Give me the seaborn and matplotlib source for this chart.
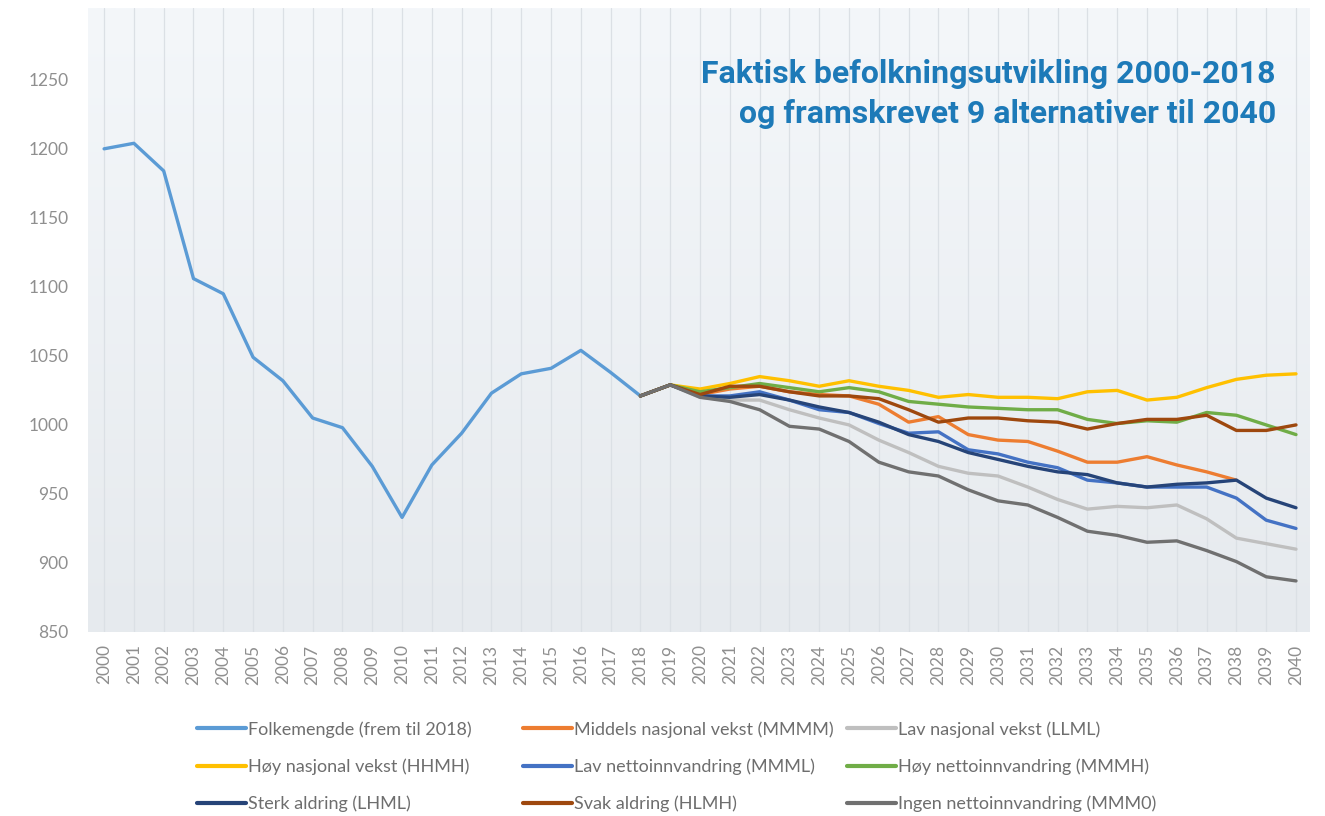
import numpy as np
import pandas as pd
import matplotlib
matplotlib.use("Agg")
import matplotlib.pyplot as plt
from matplotlib.lines import Line2D
import seaborn as sns

# ---------------- data ----------------
hist_years = list(range(2000, 2019))
folkemengde = [1200, 1204, 1184, 1106, 1095, 1049, 1032, 1005, 998, 970, 933,
               971, 994, 1023, 1037, 1041, 1054, 1038, 1021]

proj_years = list(range(2018, 2041))
middels = [1021, 1029, 1022, 1026, 1028, 1024, 1022, 1021, 1015, 1002, 1006, 993,
           989, 988, 981, 973, 973, 977, 971, 966, 960, np.nan, np.nan]
lav_nasjonal = [1021, 1029, 1020, 1018, 1018, 1011, 1005, 1000, 989, 980, 970, 965,
                963, 955, 946, 939, 941, 940, 942, 932, 918, 914, 910]
hoy_nasjonal = [1021, 1029, 1026, 1030, 1035, 1032, 1028, 1032, 1028, 1025, 1020, 1022,
                1020, 1020, 1019, 1024, 1025, 1018, 1020, 1027, 1033, 1036, 1037]
lav_netto = [1021, 1029, 1021, 1021, 1024, 1018, 1011, 1009, 1001, 994, 995, 982,
             979, 973, 969, 960, 958, 955, 955, 955, 947, 931, 925]
hoy_netto = [1021, 1029, 1024, 1027, 1030, 1027, 1024, 1027, 1024, 1017, 1015, 1013,
             1012, 1011, 1011, 1004, 1001, 1003, 1002, 1009, 1007, 1000, 993]
sterk_aldring = [1021, 1029, 1021, 1020, 1022, 1018, 1013, 1009, 1002, 993, 988, 980,
                 975, 970, 966, 964, 958, 955, 957, 958, 960, 947, 940]
svak_aldring = [1021, 1029, 1022, 1028, 1028, 1024, 1021, 1021, 1019, 1011, 1002, 1005,
                1005, 1003, 1002, 997, 1001, 1004, 1004, 1007, 996, 996, 1000]
ingen_netto = [1021, 1029, 1020, 1017, 1011, 999, 997, 988, 973, 966, 963, 953,
               945, 942, 933, 923, 920, 915, 916, 909, 901, 890, 887]

series_names = ["Folkemengde (frem til 2018)", "Middels nasjonal vekst (MMMM)",
                "Lav nasjonal vekst (LLML)", "Høy nasjonal vekst (HHMH)",
                "Lav nettoinnvandring (MMML)", "Høy nettoinnvandring (MMMH)",
                "Sterk aldring (LHML)", "Svak aldring (HLMH)",
                "Ingen nettoinnvandring (MMM0)"]
series_colors = ["#5B9BD5", "#ED7D31", "#BFBFBF", "#FFC000", "#4472C4",
                 "#70AD47", "#264478", "#9E480E", "#707070"]

y_ticks = [850, 900, 950, 1000, 1050, 1100, 1150, 1200, 1250]
title_lines = ["Faktisk befolkningsutvikling 2000-2018",
               "og framskrevet 9 alternativer til 2040"]

# ---------------- build long table ----------------
frames = [pd.DataFrame({"year": hist_years, "value": folkemengde,
                        "series": series_names[0]})]
for name, vals in zip(series_names[1:], [middels, lav_nasjonal, hoy_nasjonal,
                                         lav_netto, hoy_netto, sterk_aldring,
                                         svak_aldring, ingen_netto]):
    frames.append(pd.DataFrame({"year": proj_years, "value": vals, "series": name}))
df = pd.concat(frames, ignore_index=True).dropna()

# ---------------- figure ----------------
sns.set_theme(style="white")
plt.rcParams["font.family"] = ["Lato", "DejaVu Sans"]

fig = plt.figure(figsize=(13.25, 8.16), dpi=100)
ax = fig.add_axes([88 / 1325, 1 - 632 / 816, (1310 - 88) / 1325, (632 - 8) / 816])

# gradient background
grad = np.linspace(0, 1, 256).reshape(-1, 1)
cmap = matplotlib.colors.LinearSegmentedColormap.from_list("bg", ["#f4f7fa", "#e6eaee"])
ax.imshow(grad, extent=[0, 1, 0, 1], transform=ax.transAxes, cmap=cmap,
          aspect="auto", zorder=0, origin="upper")

all_years = list(range(2000, 2041))
for yr in all_years:
    ax.axvline(yr, color="#dbe0e5", lw=0.9, zorder=1)

palette = dict(zip(series_names, series_colors))
sns.lineplot(data=df, x="year", y="value", hue="series", hue_order=series_names,
             palette=palette, linewidth=2.4, legend=False, ax=ax, zorder=3,
             estimator=None, sort=True)

ax.set_xlim(1999.46, 2040.47)
ax.set_ylim(850, 1302)
ax.set_yticks(y_ticks)
ax.set_yticklabels([str(v) for v in y_ticks])
ax.set_xticks(all_years)
ax.set_xticklabels([str(y) for y in all_years], rotation=90)
ax.tick_params(axis="y", labelsize=12.5, labelcolor="#8f8f8f", pad=14, length=0)
ax.tick_params(axis="x", labelsize=12.5, labelcolor="#8f8f8f", pad=9, length=0)
ax.set_xlabel("")
ax.set_ylabel("")
for s in ax.spines.values():
    s.set_visible(False)
ax.grid(False)

# title
ax.text(0.972, 0.919, "\n".join(title_lines), transform=ax.transAxes,
        ha="right", va="top", fontsize=23, fontweight="bold", color="#1d7ab8",
        family=["Roboto", "DejaVu Sans"], linespacing=1.42, zorder=5)

# legend: three columns placed explicitly
col_x = [197 / 1325, 523 / 1325, 847 / 1325]
for c in range(3):
    idx = [c, c + 3, c + 6]
    handles = [Line2D([0], [0], color=series_colors[i], lw=3) for i in idx]
    labels = [series_names[i] for i in idx]
    leg = fig.legend(handles, labels, loc="upper left",
                     bbox_to_anchor=(col_x[c], 1 - 721 / 816), frameon=False,
                     fontsize=13, handlelength=2.7, handletextpad=0.1,
                     labelspacing=1.15, borderaxespad=0, borderpad=0)
    for t in leg.get_texts():
        t.set_color("#6e6e6e")

fig.savefig("out.png", dpi=100, facecolor="white")
